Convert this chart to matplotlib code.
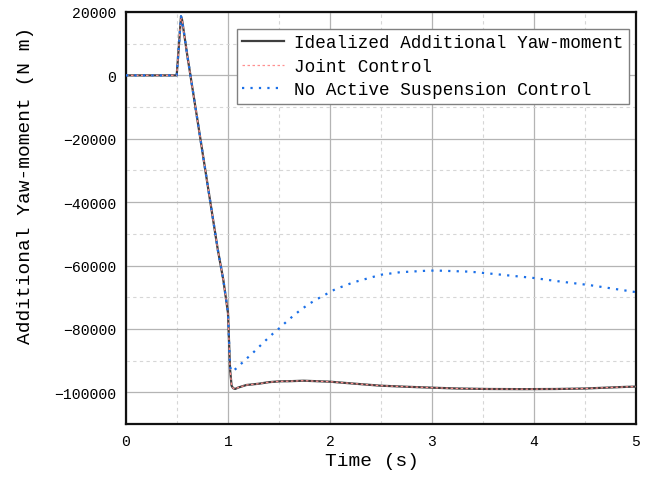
import matplotlib
matplotlib.use("Agg")
import matplotlib.pyplot as plt
from matplotlib.ticker import MultipleLocator

plt.rcParams['font.family'] = ['Liberation Mono', 'DejaVu Sans']

# Idealized additional yaw-moment
t_ideal = [0.0, 0.497, 0.52, 0.539, 0.55, 0.6, 0.7, 0.8, 0.9, 0.954, 1.0, 1.02,
           1.035, 1.05, 1.07, 1.1, 1.18, 1.3, 1.4, 1.51, 1.6, 1.74, 2.0, 2.25,
           2.49, 2.75, 3.01, 3.25, 3.56, 3.9, 4.21, 4.5, 4.89, 5.0]
m_ideal = [0, 0, 10000, 18650, 17500, 6500, -14000, -34500, -55000, -64500, -75000, -92600,
           -97900, -98700, -98950, -98500, -97700, -97300, -96800, -96530, -96500, -96340, -96650, -97300,
           -97900, -98250, -98550, -98800, -98960, -99000, -98960, -98800, -98300, -98200]

# Joint control (overlaps the idealized curve)
t_joint = [0.0, 0.497, 0.52, 0.539, 0.55, 0.6, 0.7, 0.8, 0.9, 0.954, 1.0, 1.02,
           1.035, 1.05, 1.07, 1.1, 1.18, 1.3, 1.4, 1.51, 1.6, 1.74, 2.0, 2.25,
           2.49, 2.75, 3.01, 3.25, 3.56, 3.9, 4.21, 4.5, 4.89, 5.0]
m_joint = [0, 0, 10000, 18650, 17500, 6500, -14000, -34500, -55000, -64500, -75000, -92600,
           -97900, -98700, -98950, -98500, -97700, -97300, -96800, -96530, -96500, -96340, -96650, -97300,
           -97900, -98250, -98550, -98800, -98960, -99000, -98960, -98800, -98300, -98200]

# No active suspension control
t_noas = [0.0, 0.497, 0.52, 0.539, 0.55, 0.6, 0.7, 0.8, 0.9, 0.954, 1.0, 1.02,
          1.04, 1.095, 1.16, 1.23, 1.30, 1.37, 1.44, 1.51, 1.58, 1.65, 1.72, 1.80,
          1.89, 1.97, 2.05, 2.14, 2.23, 2.32, 2.50, 2.69, 2.97, 3.06, 3.34, 3.43,
          3.62, 3.99, 4.27, 4.55, 4.92, 5.0]
m_noas = [0, 0, 10000, 18650, 17500, 6500, -14000, -34500, -55000, -64500, -75000, -92000,
          -93500, -92100, -90000, -88000, -85800, -83600, -81500, -79600, -77500, -75600, -73800, -72000,
          -70300, -68900, -67500, -66400, -65300, -64500, -62900, -62100, -61600, -61600, -61900, -62100,
          -62700, -63900, -65100, -66200, -68000, -68400]

labels = ['Idealized Additional Yaw-moment', 'Joint Control', 'No Active Suspension Control']
x_label = 'Time (s)'
y_label = 'Additional Yaw-moment (N m)'

fig = plt.figure(figsize=(6.51, 4.81), dpi=100)
ax = fig.add_axes([126/651, 1-425/481, 510/651, 412/481])

ax.plot(t_ideal, m_ideal, color='#3f3f3f', lw=1.6, label=labels[0], zorder=3)
ax.plot(t_joint, m_joint, color='#ff9090', lw=0.9, linestyle=(0, (2, 2)), label=labels[1], zorder=4)
ax.plot(t_noas, m_noas, color='#1a6fe8', lw=1.6, linestyle=(0, (1, 2.8)), label=labels[2], zorder=5)

ax.set_xlim(0, 5)
ax.set_ylim(-110000, 20000)
ax.xaxis.set_major_locator(MultipleLocator(1))
ax.xaxis.set_minor_locator(MultipleLocator(0.5))
ax.yaxis.set_major_locator(MultipleLocator(20000))
ax.yaxis.set_minor_locator(MultipleLocator(10000))

ax.grid(which='major', color='#b4b4b4', lw=0.9, linestyle='-')
ax.grid(which='minor', color='#d6d6d6', lw=0.8, linestyle=(0, (3, 3)))
ax.set_axisbelow(True)

ax.tick_params(which='both', length=0)
ax.tick_params(axis='y', pad=7, labelsize=10.6)
ax.tick_params(axis='x', pad=7, labelsize=10.6)

for s in ax.spines.values():
    s.set_linewidth(1.6)
    s.set_color('#111111')

ax.set_xlabel(x_label, fontsize=14)
ax.set_ylabel(y_label, fontsize=14)
ax.xaxis.set_label_coords(0.482, -0.068)
ax.yaxis.set_label_coords(-0.180, 0.582)

leg = ax.legend(loc='upper right', bbox_to_anchor=(0.986, 0.959), borderaxespad=0,
                fontsize=12.7, fancybox=False, framealpha=1, edgecolor='#808080',
                handlelength=2.35, handletextpad=0.6, labelspacing=0.37, borderpad=0.3)
leg.get_frame().set_linewidth(1.0)

fig.savefig('out.png', dpi=100)
